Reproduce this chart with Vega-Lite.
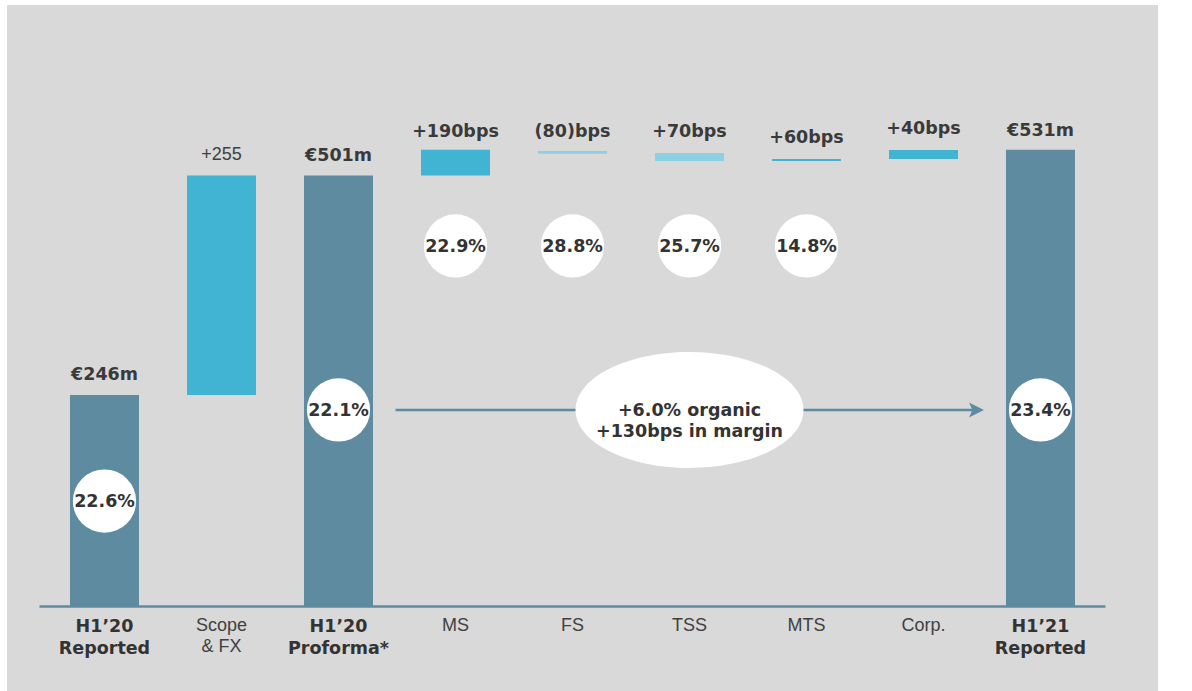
{
  "$schema": "https://vega.github.io/schema/vega-lite/v6.json",
  "width": 1151,
  "height": 686,
  "autosize": "none",
  "padding": {"left": 7, "top": 5, "right": 34, "bottom": 0},
  "background": "white",
  "config": {
    "view": {"fill": "#d9d9d9", "stroke": null},
    "text": {"font": "Liberation Sans"}
  },
  "datasets": {
    "bars": [
      {"cat": "R20", "v0": 0, "v": 246, "kind": "dark"},
      {"cat": "SFX", "v0": 246, "v": 501, "kind": "light"},
      {"cat": "PF20", "v0": 0, "v": 501, "kind": "dark"},
      {"cat": "MS", "v0": 501, "v": 531, "kind": "light"},
      {"cat": "FS", "v0": 526.5, "v": 529.7, "kind": "pale"},
      {"cat": "TSS", "v0": 518, "v": 527.3, "kind": "pale"},
      {"cat": "MTS", "v0": 518, "v": 520.3, "kind": "light"},
      {"cat": "CORP", "v0": 520.3, "v": 530.8, "kind": "light"},
      {"cat": "R21", "v0": 0, "v": 531, "kind": "dark"}
    ],
    "circles": [
      {"cat": "R20", "v": 122.6, "pct": "22.6%"},
      {"cat": "PF20", "v": 228.5, "pct": "22.1%"},
      {"cat": "MS", "v": 419.2, "pct": "22.9%"},
      {"cat": "FS", "v": 419.2, "pct": "28.8%"},
      {"cat": "TSS", "v": 419.2, "pct": "25.7%"},
      {"cat": "MTS", "v": 419.2, "pct": "14.8%"},
      {"cat": "R21", "v": 228.5, "pct": "23.4%"}
    ],
    "vlabels": [
      {"cat": "R20", "v": 246, "txt": "€246m", "bold": true},
      {"cat": "SFX", "v": 501, "txt": "+255", "bold": false},
      {"cat": "PF20", "v": 501, "txt": "€501m", "bold": true},
      {"cat": "MS", "v": 529, "txt": "+190bps", "bold": true},
      {"cat": "FS", "v": 529, "txt": "(80)bps", "bold": true},
      {"cat": "TSS", "v": 529, "txt": "+70bps", "bold": true},
      {"cat": "MTS", "v": 522, "txt": "+60bps", "bold": true},
      {"cat": "CORP", "v": 532, "txt": "+40bps", "bold": true},
      {"cat": "R21", "v": 530, "txt": "€531m", "bold": true}
    ],
    "cats": [
      {"cat": "R20", "v": 0, "txt": "H1’20\nReported", "bold": true},
      {"cat": "SFX", "v": 0, "txt": "Scope\n& FX", "bold": false},
      {"cat": "PF20", "v": 0, "txt": "H1’20\nProforma*", "bold": true},
      {"cat": "MS", "v": 0, "txt": "MS", "bold": false},
      {"cat": "FS", "v": 0, "txt": "FS", "bold": false},
      {"cat": "TSS", "v": 0, "txt": "TSS", "bold": false},
      {"cat": "MTS", "v": 0, "txt": "MTS", "bold": false},
      {"cat": "CORP", "v": 0, "txt": "Corp.", "bold": false},
      {"cat": "R21", "v": 0, "txt": "H1’21\nReported", "bold": true}
    ],
    "baseline": [{"cat": "R20", "cat2": "R21", "v": 0}],
    "arrow": [{"cat": "PF20", "cat2": "R21", "v": 228.5}],
    "note": [{"cat": "TSS", "v": 228.5, "txt": "+6.0% organic\n+130bps in margin"}]
  },
  "encoding": {
    "x": {
      "field": "cat",
      "type": "nominal",
      "axis": null,
      "scale": {
        "domain": ["R20", "SFX", "PF20", "MS", "FS", "TSS", "MTS", "CORP", "R21"],
        "paddingInner": 0.41026,
        "paddingOuter": 0.62393,
        "align": 0.4315,
        "round": false
      }
    },
    "y": {
      "field": "v",
      "type": "quantitative",
      "axis": null,
      "scale": {"domain": [-98.3, 699.4], "nice": false, "zero": false}
    }
  },
  "layer": [
    {
      "data": {"name": "bars"},
      "mark": {"type": "bar"},
      "encoding": {
        "y2": {"field": "v0"},
        "color": {
          "field": "kind",
          "type": "nominal",
          "legend": null,
          "scale": {"domain": ["dark", "light", "pale"], "range": ["#5e8ba0", "#41b3d3", "#8dd0e3"]}
        }
      }
    },
    {
      "data": {"name": "baseline"},
      "mark": {"type": "rule", "color": "#5e8ba0", "strokeWidth": 2.5, "xOffset": -65, "x2Offset": 65},
      "encoding": {"x2": {"field": "cat2"}}
    },
    {
      "data": {"name": "arrow"},
      "mark": {"type": "rule", "color": "#5e8ba0", "strokeWidth": 2.5, "xOffset": 57, "x2Offset": -66},
      "encoding": {"x2": {"field": "cat2"}}
    },
    {
      "data": {"name": "arrow"},
      "mark": {"type": "point", "filled": true, "opacity": 1, "color": "#5e8ba0", "size": 225, "xOffset": -64, "shape": "M-1,-1 L1,0 L-1,1 L-0.55,0 Z"},
      "encoding": {"x": {"field": "cat2", "type": "nominal"}}
    },
    {
      "data": {"name": "note"},
      "mark": {"type": "point", "filled": true, "opacity": 1, "color": "white", "size": 51984, "shape": "M-1,0 C-1,-0.281 -0.552,-0.509 0,-0.509 C0.552,-0.509 1,-0.281 1,0 C1,0.281 0.552,0.509 0,0.509 C-0.552,0.509 -1,0.281 -1,0 Z"}
    },
    {
      "data": {"name": "note"},
      "mark": {"type": "text", "font": "DejaVu Sans", "fontSize": 17.5, "fontWeight": "bold", "color": "#333333", "baseline": "middle", "align": "center", "lineBreak": "\n", "lineHeight": 21, "dy": 1},
      "encoding": {"text": {"field": "txt"}}
    },
    {
      "data": {"name": "circles"},
      "mark": {"type": "point", "filled": true, "opacity": 1, "color": "white", "size": 4000, "shape": "circle"}
    },
    {
      "data": {"name": "circles"},
      "mark": {"type": "text", "font": "DejaVu Sans", "fontSize": 17.5, "fontWeight": "bold", "color": "#333333", "baseline": "middle", "align": "center", "dy": 1},
      "encoding": {"text": {"field": "pct"}}
    },
    {
      "data": {"name": "vlabels"},
      "transform": [{"filter": "datum.bold"}],
      "mark": {"type": "text", "font": "DejaVu Sans", "fontSize": 17.5, "fontWeight": "bold", "color": "#3a3a3a", "baseline": "middle", "align": "center", "dy": -20},
      "encoding": {"text": {"field": "txt"}}
    },
    {
      "data": {"name": "vlabels"},
      "transform": [{"filter": "!datum.bold"}],
      "mark": {"type": "text", "fontSize": 18, "color": "#404040", "baseline": "middle", "align": "center", "dy": -21},
      "encoding": {"text": {"field": "txt"}}
    },
    {
      "data": {"name": "cats"},
      "transform": [{"filter": "datum.bold"}],
      "mark": {"type": "text", "font": "DejaVu Sans", "fontSize": 17.5, "fontWeight": "bold", "color": "#333333", "baseline": "top", "align": "center", "lineBreak": "\n", "lineHeight": 22, "dy": 12},
      "encoding": {"text": {"field": "txt"}}
    },
    {
      "data": {"name": "cats"},
      "transform": [{"filter": "!datum.bold"}],
      "mark": {"type": "text", "fontSize": 18, "color": "#404040", "baseline": "top", "align": "center", "lineBreak": "\n", "lineHeight": 21, "dy": 11},
      "encoding": {"text": {"field": "txt"}}
    }
  ]
}
